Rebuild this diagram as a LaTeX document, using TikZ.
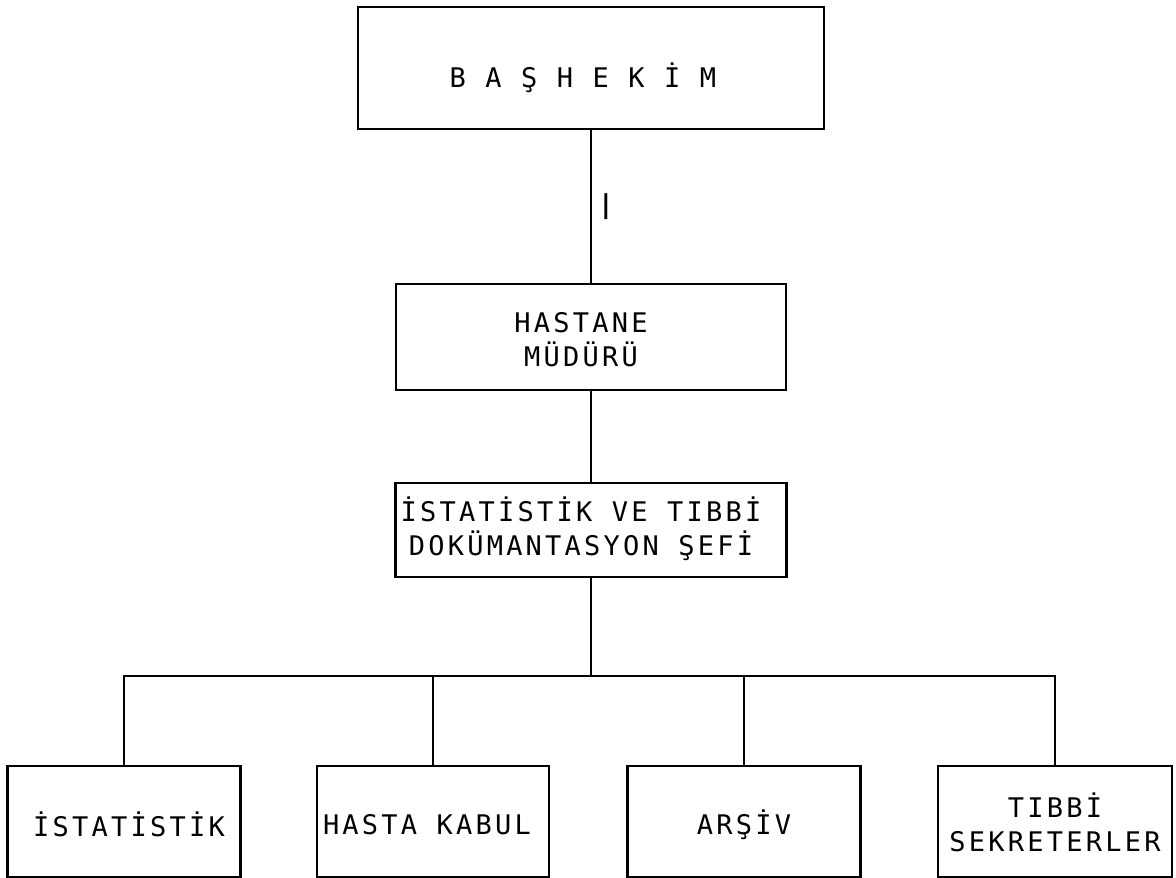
\documentclass[tikz,border=0pt]{standalone}
\usepackage{fontspec}
\newfontfamily\twfont[LetterSpace=12]{DejaVu Sans Mono}
\begin{document}
\begin{tikzpicture}[x=1pt,y=-1pt,
  box/.style={draw,line width=2.6pt,rectangle,inner sep=0pt},
  txt/.style={font=\twfont\fontsize{27}{34}\selectfont,align=center,inner sep=0pt},
  wire/.style={line width=2.6pt}]
\useasboundingbox (0,0) rectangle (1176,878);
\node[box,minimum width=466pt,minimum height=122pt,
  label={[txt,xshift=-8pt,yshift=-10pt]center:B A Ş H E K İ M}] (top) at (591,68) {};
\node[box,minimum width=390pt,minimum height=106pt,
  label={[txt,xshift=-10pt,yshift=-3pt]center:HASTANE\\MÜDÜRÜ}] (hm) at (591,337) {};
\node[box,minimum width=391pt,minimum height=94pt,
  label={[txt,xshift=-10pt,yshift=1pt]center:İSTATİSTİK VE TIBBİ\\DOKÜMANTASYON ŞEFİ}] (sef) at (591,530) {};
\node[box,minimum width=233pt,minimum height=111pt,
  label={[txt,xshift=5pt,yshift=-3pt]center:İSTATİSTİK}] (b1) at (124,821.5) {};
\node[box,minimum width=232pt,minimum height=111pt,
  label={[txt,xshift=-6pt,yshift=-3pt]center:HASTA KABUL}] (b2) at (433,821.5) {};
\node[box,minimum width=233pt,minimum height=111pt,
  label={[txt,yshift=-3pt]center:ARŞİV}] (b3) at (744,821.5) {};
\node[box,minimum width=234pt,minimum height=111pt,
  label={[txt,yshift=-1pt]center:TIBBİ\\SEKRETERLER}] (b4) at (1055,821.5) {};
\node[font=\twfont\bfseries\fontsize{26}{26}\selectfont,inner sep=0pt] (tick) at (606,207) {|};
\coordinate (bus) at (591,676);
\draw[wire] (top.south) -- (hm.north);
\draw[wire] (hm.south) -- (sef.north);
\draw[wire] (sef.south) -- (bus);
\draw[wire] (b1.north) |- (b4.north |- bus) -- (b4.north);
\draw[wire] (b2.north) -- (b2.north |- bus);
\draw[wire] (b3.north) -- (b3.north |- bus);
\end{tikzpicture}
\end{document}
